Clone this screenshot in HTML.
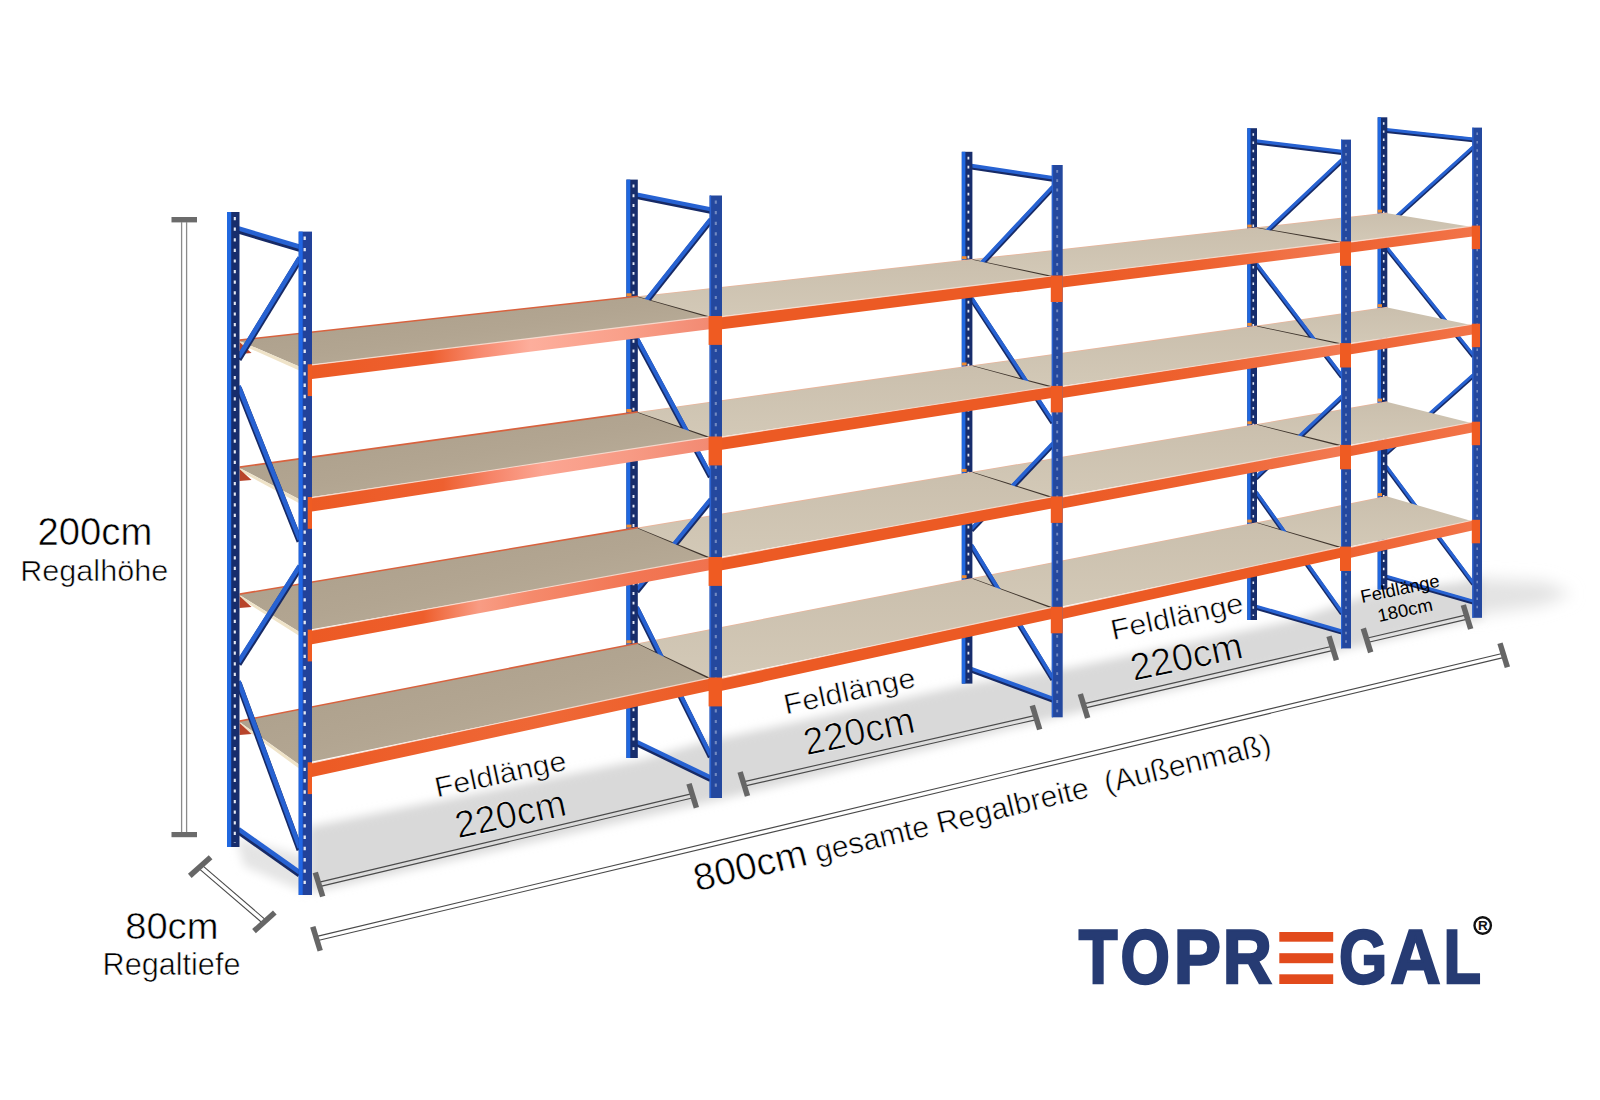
<!DOCTYPE html>
<html><head><meta charset="utf-8"><style>
html,body{margin:0;padding:0;background:#fff;}
svg{display:block;font-family:"Liberation Sans", sans-serif;}
</style></head><body>
<svg width="1600" height="1100" viewBox="0 0 1600 1100">
<defs>
<filter id="blur" x="-10%" y="-30%" width="120%" height="160%"><feGaussianBlur stdDeviation="5"/></filter>
<filter id="blur3" x="-30%" y="-100%" width="160%" height="300%"><feGaussianBlur stdDeviation="8"/></filter>
<filter id="blur2" x="-20%" y="-50%" width="140%" height="200%"><feGaussianBlur stdDeviation="16"/></filter>
<linearGradient id="board" x1="0" y1="0" x2="1" y2="1"><stop offset="0" stop-color="#a99c88"/><stop offset="0.5" stop-color="#b2a591"/><stop offset="1" stop-color="#c0b4a0"/></linearGradient>
<linearGradient id="boardL" x1="0" y1="0" x2="0" y2="1"><stop offset="0" stop-color="#cabfad"/><stop offset="1" stop-color="#d3c9b7"/></linearGradient>
<linearGradient id="beam2" x1="0" y1="0" x2="1" y2="0"><stop offset="0" stop-color="#ec5a24"/><stop offset="0.5" stop-color="#ee6230"/><stop offset="1" stop-color="#f27a52"/></linearGradient>
<linearGradient id="beam3" x1="0" y1="0" x2="1" y2="0"><stop offset="0" stop-color="#ee6232"/><stop offset="1" stop-color="#f27448"/></linearGradient>
<linearGradient id="beam0_0" x1="0" y1="0" x2="1" y2="0"><stop offset="0" stop-color="#ec5a24"/><stop offset="0.3" stop-color="#ee6030"/><stop offset="0.42" stop-color="#f7896e"/><stop offset="0.55" stop-color="#fdae9c"/><stop offset="0.78" stop-color="#f9a08a"/><stop offset="1" stop-color="#f28a72"/></linearGradient>
<linearGradient id="beam0_1" x1="0" y1="0" x2="1" y2="0"><stop offset="0" stop-color="#ec5a24"/><stop offset="0.33" stop-color="#ee6030"/><stop offset="0.45" stop-color="#f68468"/><stop offset="0.58" stop-color="#fba592"/><stop offset="0.8" stop-color="#f79a84"/><stop offset="1" stop-color="#f28a72"/></linearGradient>
<linearGradient id="beam0_2" x1="0" y1="0" x2="1" y2="0"><stop offset="0" stop-color="#ec5a24"/><stop offset="0.28" stop-color="#ee5e2c"/><stop offset="0.42" stop-color="#f89c84"/><stop offset="0.55" stop-color="#f58a6c"/><stop offset="0.8" stop-color="#f27654"/><stop offset="1" stop-color="#f0724e"/></linearGradient>
<linearGradient id="beam0_3" x1="0" y1="0" x2="1" y2="0"><stop offset="0" stop-color="#ec5a24"/><stop offset="0.4" stop-color="#ee6432"/><stop offset="0.6" stop-color="#ef6836"/><stop offset="1" stop-color="#ec5c26"/></linearGradient>
</defs>
<rect width="1600" height="1100" fill="#fff"/>
<polygon points="1470.0,578.0 1545.0,582.0 1572.0,594.0 1540.0,606.0 1470.0,616.0" fill="#e3e3e3" filter="url(#blur3)"/>
<polygon points="308.0,827.0 640.0,760.0 700.0,743.0 968.0,684.0 1069.0,668.0 1290.0,621.0 1377.0,592.0 1482.0,580.0 1482.0,618.0 1351.0,648.0 1062.0,716.0 722.0,799.0 308.0,893.0" fill="#d9d9d9" filter="url(#blur)"/>
<polygon points="236.0,838.0 304.0,856.0 304.0,892.0 244.0,866.0" fill="#e4e4e4" filter="url(#blur)"/>
<line x1="1386.3" y1="130.9" x2="1473.3" y2="140.2" stroke="#172a66" stroke-width="4.2"/><line x1="1386.3" y1="129.5" x2="1473.3" y2="138.9" stroke="#2762d2" stroke-width="3.0"/><line x1="1386.3" y1="226.7" x2="1473.3" y2="148.0" stroke="#172a66" stroke-width="4.2"/><line x1="1386.3" y1="225.4" x2="1473.3" y2="146.7" stroke="#2762d2" stroke-width="3.0"/><line x1="1386.3" y1="248.0" x2="1473.3" y2="356.4" stroke="#172a66" stroke-width="4.2"/><line x1="1386.3" y1="246.7" x2="1473.3" y2="355.0" stroke="#2762d2" stroke-width="3.0"/><line x1="1386.3" y1="453.4" x2="1473.3" y2="376.0" stroke="#172a66" stroke-width="4.2"/><line x1="1386.3" y1="452.1" x2="1473.3" y2="374.6" stroke="#2762d2" stroke-width="3.0"/><line x1="1386.3" y1="467.6" x2="1473.3" y2="584.3" stroke="#172a66" stroke-width="4.2"/><line x1="1386.3" y1="466.2" x2="1473.3" y2="583.0" stroke="#2762d2" stroke-width="3.0"/><line x1="1386.3" y1="577.6" x2="1473.3" y2="602.5" stroke="#172a66" stroke-width="4.2"/><line x1="1386.3" y1="576.2" x2="1473.3" y2="601.1" stroke="#2762d2" stroke-width="3.0"/>
<rect x="1377.7" y="117.3" width="9.6" height="472.2" fill="#172d6c"/><rect x="1377.7" y="117.3" width="3.3" height="472.2" fill="#2068e0"/><line x1="1383.7" y1="122.3" x2="1383.7" y2="585.5" stroke="#e6eaf4" stroke-opacity="1.00" stroke-width="1.6" stroke-dasharray="2.4 5.7"/>
<polygon points="1257.0,227.2 1387.3,212.4 1387.3,214.2 1257.0,229.0" fill="#eab49a"/>
<polygon points="1257.0,228.0 1387.3,213.2 1472.3,227.1 1341.0,242.9" fill="url(#boardL)"/>
<line x1="1256.9" y1="228.5" x2="1341.9" y2="242.9" stroke="#40362e" stroke-width="2.2"/>
<polygon points="1257.0,325.6 1387.3,306.8 1387.3,308.6 1257.0,327.4" fill="#eab49a"/>
<polygon points="1257.0,326.4 1387.3,307.6 1472.3,325.2 1341.0,344.6" fill="url(#boardL)"/>
<line x1="1256.9" y1="326.9" x2="1341.9" y2="344.6" stroke="#40362e" stroke-width="2.2"/>
<polygon points="1257.0,424.0 1387.3,401.2 1387.3,403.0 1257.0,425.8" fill="#eab49a"/>
<polygon points="1257.0,424.8 1387.3,402.0 1472.3,423.2 1341.0,446.4" fill="url(#boardL)"/>
<line x1="1256.9" y1="425.3" x2="1341.9" y2="446.4" stroke="#40362e" stroke-width="2.2"/>
<polygon points="1257.0,522.3 1387.3,495.7 1387.3,497.5 1257.0,524.1" fill="#eab49a"/>
<polygon points="1257.0,523.1 1387.3,496.5 1472.3,521.2 1341.0,548.2" fill="url(#boardL)"/>
<line x1="1256.9" y1="523.6" x2="1341.9" y2="548.2" stroke="#40362e" stroke-width="2.2"/>
<line x1="1256.0" y1="142.4" x2="1342.0" y2="152.7" stroke="#172a66" stroke-width="4.4"/><line x1="1256.0" y1="140.9" x2="1342.0" y2="151.3" stroke="#2762d2" stroke-width="3.2"/><line x1="1256.0" y1="242.2" x2="1342.0" y2="160.8" stroke="#172a66" stroke-width="4.4"/><line x1="1256.0" y1="240.8" x2="1342.0" y2="159.4" stroke="#2762d2" stroke-width="3.2"/><line x1="1256.0" y1="264.3" x2="1342.0" y2="377.1" stroke="#172a66" stroke-width="4.4"/><line x1="1256.0" y1="262.9" x2="1342.0" y2="375.7" stroke="#2762d2" stroke-width="3.2"/><line x1="1256.0" y1="478.3" x2="1342.0" y2="397.4" stroke="#172a66" stroke-width="4.4"/><line x1="1256.0" y1="476.8" x2="1342.0" y2="396.0" stroke="#2762d2" stroke-width="3.2"/><line x1="1256.0" y1="493.0" x2="1342.0" y2="613.7" stroke="#172a66" stroke-width="4.4"/><line x1="1256.0" y1="491.6" x2="1342.0" y2="612.3" stroke="#2762d2" stroke-width="3.2"/><line x1="1256.0" y1="607.6" x2="1342.0" y2="632.5" stroke="#172a66" stroke-width="4.4"/><line x1="1256.0" y1="606.2" x2="1342.0" y2="631.1" stroke="#2762d2" stroke-width="3.2"/>
<rect x="1247.3" y="128.2" width="9.7" height="491.8" fill="#172d6c"/><rect x="1247.3" y="128.2" width="3.3" height="491.8" fill="#2068e0"/><line x1="1253.3" y1="133.2" x2="1253.3" y2="616.0" stroke="#e6eaf4" stroke-opacity="1.00" stroke-width="1.6" stroke-dasharray="2.5 5.8"/>
<polygon points="972.4,259.0 1257.0,227.2 1257.0,229.0 972.4,260.8" fill="#eab49a"/>
<polygon points="972.4,259.8 1257.0,228.0 1341.0,242.9 1051.8,277.1" fill="url(#boardL)"/>
<line x1="972.3" y1="260.3" x2="1052.7" y2="277.1" stroke="#40362e" stroke-width="2.2"/>
<polygon points="972.4,365.3 1257.0,325.6 1257.0,327.4 972.4,367.1" fill="#eab49a"/>
<polygon points="972.4,366.1 1257.0,326.4 1341.0,344.6 1051.8,387.6" fill="url(#boardL)"/>
<line x1="972.3" y1="366.6" x2="1052.7" y2="387.6" stroke="#40362e" stroke-width="2.2"/>
<polygon points="972.4,471.7 1257.0,424.0 1257.0,425.8 972.4,473.5" fill="#eab49a"/>
<polygon points="972.4,472.5 1257.0,424.8 1341.0,446.4 1051.8,498.0" fill="url(#boardL)"/>
<line x1="972.3" y1="473.0" x2="1052.7" y2="498.0" stroke="#40362e" stroke-width="2.2"/>
<polygon points="972.4,578.0 1257.0,522.3 1257.0,524.1 972.4,579.8" fill="#eab49a"/>
<polygon points="972.4,578.8 1257.0,523.1 1341.0,548.2 1051.8,608.5" fill="url(#boardL)"/>
<line x1="972.3" y1="579.3" x2="1052.7" y2="608.5" stroke="#40362e" stroke-width="2.2"/>
<line x1="971.4" y1="167.1" x2="1052.8" y2="179.2" stroke="#172a66" stroke-width="5.0"/><line x1="971.4" y1="165.6" x2="1052.8" y2="177.7" stroke="#2762d2" stroke-width="3.6"/><line x1="971.4" y1="275.1" x2="1052.8" y2="188.1" stroke="#172a66" stroke-width="5.0"/><line x1="971.4" y1="273.5" x2="1052.8" y2="186.5" stroke="#2762d2" stroke-width="3.6"/><line x1="971.4" y1="299.0" x2="1052.8" y2="422.8" stroke="#172a66" stroke-width="5.0"/><line x1="971.4" y1="297.5" x2="1052.8" y2="421.2" stroke="#2762d2" stroke-width="3.6"/><line x1="971.4" y1="530.4" x2="1052.8" y2="444.9" stroke="#172a66" stroke-width="5.0"/><line x1="971.4" y1="528.8" x2="1052.8" y2="443.3" stroke="#2762d2" stroke-width="3.6"/><line x1="971.4" y1="546.3" x2="1052.8" y2="679.6" stroke="#172a66" stroke-width="5.0"/><line x1="971.4" y1="544.7" x2="1052.8" y2="678.0" stroke="#2762d2" stroke-width="3.6"/><line x1="971.4" y1="670.2" x2="1052.8" y2="700.1" stroke="#172a66" stroke-width="5.0"/><line x1="971.4" y1="668.6" x2="1052.8" y2="698.5" stroke="#2762d2" stroke-width="3.6"/>
<rect x="961.8" y="151.8" width="10.6" height="531.8" fill="#172d6c"/><rect x="961.8" y="151.8" width="3.6" height="531.8" fill="#2068e0"/><line x1="968.4" y1="156.8" x2="968.4" y2="679.6" stroke="#e6eaf4" stroke-opacity="1.00" stroke-width="1.8" stroke-dasharray="2.7 6.3"/>
<polygon points="637.8,296.2 972.4,259.0 972.4,260.8 637.8,298.0" fill="#eab49a"/>
<polygon points="637.8,297.0 972.4,259.8 1051.8,277.1 709.6,317.8" fill="url(#boardL)"/>
<line x1="637.7" y1="297.5" x2="710.5" y2="317.8" stroke="#40362e" stroke-width="2.2"/>
<polygon points="637.8,411.9 972.4,365.3 972.4,367.1 637.8,413.7" fill="#eab49a"/>
<polygon points="637.8,412.7 972.4,366.1 1051.8,387.6 709.6,438.3" fill="url(#boardL)"/>
<line x1="637.7" y1="413.2" x2="710.5" y2="438.3" stroke="#40362e" stroke-width="2.2"/>
<polygon points="637.8,527.6 972.4,471.7 972.4,473.5 637.8,529.4" fill="#eab49a"/>
<polygon points="637.8,528.4 972.4,472.5 1051.8,498.0 709.6,558.8" fill="url(#boardL)"/>
<line x1="637.7" y1="528.9" x2="710.5" y2="558.8" stroke="#40362e" stroke-width="2.2"/>
<polygon points="637.8,643.3 972.4,578.0 972.4,579.8 637.8,645.1" fill="#eab49a"/>
<polygon points="637.8,644.1 972.4,578.8 1051.8,608.5 709.6,679.3" fill="url(#boardL)"/>
<line x1="637.7" y1="644.6" x2="710.5" y2="679.3" stroke="#40362e" stroke-width="2.2"/>
<line x1="636.8" y1="196.3" x2="710.6" y2="211.1" stroke="#172a66" stroke-width="5.6"/><line x1="636.8" y1="194.5" x2="710.6" y2="209.3" stroke="#2762d2" stroke-width="4.0"/><line x1="636.8" y1="313.8" x2="710.6" y2="220.7" stroke="#172a66" stroke-width="5.6"/><line x1="636.8" y1="312.0" x2="710.6" y2="218.9" stroke="#2762d2" stroke-width="4.0"/><line x1="636.8" y1="339.8" x2="710.6" y2="476.8" stroke="#172a66" stroke-width="5.6"/><line x1="636.8" y1="338.0" x2="710.6" y2="475.0" stroke="#2762d2" stroke-width="4.0"/><line x1="636.8" y1="591.4" x2="710.6" y2="500.9" stroke="#172a66" stroke-width="5.6"/><line x1="636.8" y1="589.6" x2="710.6" y2="499.1" stroke="#2762d2" stroke-width="4.0"/><line x1="636.8" y1="608.7" x2="710.6" y2="756.9" stroke="#172a66" stroke-width="5.6"/><line x1="636.8" y1="606.9" x2="710.6" y2="755.2" stroke="#2762d2" stroke-width="4.0"/><line x1="636.8" y1="743.5" x2="710.6" y2="779.2" stroke="#172a66" stroke-width="5.6"/><line x1="636.8" y1="741.7" x2="710.6" y2="777.4" stroke="#2762d2" stroke-width="4.0"/>
<rect x="626.4" y="179.6" width="11.4" height="578.4" fill="#172d6c"/><rect x="626.4" y="179.6" width="3.9" height="578.4" fill="#2068e0"/><line x1="633.5" y1="184.6" x2="633.5" y2="754.0" stroke="#e6eaf4" stroke-opacity="1.00" stroke-width="1.9" stroke-dasharray="2.9 6.8"/>
<polygon points="239.5,339.3 637.8,295.4 637.8,298.0 239.5,341.9" fill="#d8623e"/>
<polygon points="239.5,340.9 637.8,297.0 709.6,317.8 298.7,366.3" fill="url(#board)"/>
<polygon points="239.5,340.9 298.7,366.3 298.7,370.3 239.5,343.9" fill="#efe3c8"/>
<polygon points="239.5,341.9 251.5,352.9 239.5,353.9" fill="#b8442a"/>
<polygon points="239.5,466.3 637.8,411.1 637.8,413.7 239.5,468.9" fill="#d8623e"/>
<polygon points="239.5,467.9 637.8,412.7 709.6,438.3 298.7,499.0" fill="url(#board)"/>
<polygon points="239.5,467.9 298.7,499.0 298.7,503.0 239.5,470.9" fill="#efe3c8"/>
<polygon points="239.5,468.9 251.5,479.9 239.5,480.9" fill="#b8442a"/>
<polygon points="239.5,593.3 637.8,526.8 637.8,529.4 239.5,595.9" fill="#d8623e"/>
<polygon points="239.5,594.9 637.8,528.4 709.6,558.8 298.7,631.6" fill="url(#board)"/>
<polygon points="239.5,594.9 298.7,631.6 298.7,635.6 239.5,597.9" fill="#efe3c8"/>
<polygon points="239.5,595.9 251.5,606.9 239.5,607.9" fill="#b8442a"/>
<polygon points="239.5,720.3 637.8,642.5 637.8,645.1 239.5,722.9" fill="#d8623e"/>
<polygon points="239.5,721.9 637.8,644.1 709.6,679.3 298.7,764.3" fill="url(#board)"/>
<polygon points="239.5,721.9 298.7,764.3 298.7,768.3 239.5,724.9" fill="#efe3c8"/>
<polygon points="239.5,722.9 251.5,733.9 239.5,734.9" fill="#b8442a"/>
<line x1="238.5" y1="230.4" x2="299.7" y2="248.8" stroke="#172a66" stroke-width="6.4"/><line x1="238.5" y1="228.4" x2="299.7" y2="246.8" stroke="#2762d2" stroke-width="4.6"/><line x1="238.5" y1="359.3" x2="299.7" y2="259.4" stroke="#172a66" stroke-width="6.4"/><line x1="238.5" y1="357.3" x2="299.7" y2="257.4" stroke="#2762d2" stroke-width="4.6"/><line x1="238.5" y1="387.9" x2="299.7" y2="541.4" stroke="#172a66" stroke-width="6.4"/><line x1="238.5" y1="385.9" x2="299.7" y2="539.3" stroke="#2762d2" stroke-width="4.6"/><line x1="238.5" y1="664.1" x2="299.7" y2="567.9" stroke="#172a66" stroke-width="6.4"/><line x1="238.5" y1="662.1" x2="299.7" y2="565.8" stroke="#2762d2" stroke-width="4.6"/><line x1="238.5" y1="683.2" x2="299.7" y2="849.8" stroke="#172a66" stroke-width="6.4"/><line x1="238.5" y1="681.1" x2="299.7" y2="847.8" stroke="#2762d2" stroke-width="4.6"/><line x1="238.5" y1="831.1" x2="299.7" y2="874.4" stroke="#172a66" stroke-width="6.4"/><line x1="238.5" y1="829.1" x2="299.7" y2="872.3" stroke="#2762d2" stroke-width="4.6"/>
<rect x="227.0" y="212.0" width="12.5" height="635.0" fill="#172d6c"/><rect x="227.0" y="212.0" width="4.2" height="635.0" fill="#2068e0"/><line x1="234.8" y1="217.0" x2="234.8" y2="843.0" stroke="#e6eaf4" stroke-opacity="1.00" stroke-width="2.1" stroke-dasharray="3.2 7.4"/>
<polygon points="312.0,364.9 709.6,316.6 709.6,329.3 312.0,378.9" fill="url(#beam0_0)"/>
<line x1="312.0" y1="364.9" x2="709.6" y2="316.6" stroke="#fbe6dc" stroke-width="1.1" opacity="0.8"/>
<polygon points="722.0,316.6 1051.8,276.0 1051.8,287.6 722.0,329.3" fill="#ec5a24"/>
<line x1="722.0" y1="316.6" x2="1051.8" y2="276.0" stroke="#fbe6dc" stroke-width="1.1" opacity="0.8"/>
<polygon points="1062.7,276.0 1341.0,241.9 1341.0,252.6 1062.7,287.6" fill="url(#beam2)"/>
<line x1="1062.7" y1="276.0" x2="1341.0" y2="241.9" stroke="#fbe6dc" stroke-width="1.1" opacity="0.8"/>
<polygon points="1351.0,241.9 1472.3,226.1 1472.3,236.4 1351.0,252.6" fill="url(#beam3)"/>
<line x1="1351.0" y1="241.9" x2="1472.3" y2="226.1" stroke="#fbe6dc" stroke-width="1.1" opacity="0.8"/>
<polygon points="312.0,497.6 709.6,437.1 709.6,449.8 312.0,511.6" fill="url(#beam0_1)"/>
<line x1="312.0" y1="497.6" x2="709.6" y2="437.1" stroke="#fbe6dc" stroke-width="1.1" opacity="0.8"/>
<polygon points="722.0,437.1 1051.8,386.5 1051.8,398.1 722.0,449.8" fill="#ec5a24"/>
<line x1="722.0" y1="437.1" x2="1051.8" y2="386.5" stroke="#fbe6dc" stroke-width="1.1" opacity="0.8"/>
<polygon points="1062.7,386.5 1341.0,343.6 1341.0,354.3 1062.7,398.1" fill="url(#beam2)"/>
<line x1="1062.7" y1="386.5" x2="1341.0" y2="343.6" stroke="#fbe6dc" stroke-width="1.1" opacity="0.8"/>
<polygon points="1351.0,343.6 1472.3,324.2 1472.3,334.5 1351.0,354.3" fill="url(#beam3)"/>
<line x1="1351.0" y1="343.6" x2="1472.3" y2="324.2" stroke="#fbe6dc" stroke-width="1.1" opacity="0.8"/>
<polygon points="312.0,630.3 709.6,557.6 709.6,570.3 312.0,644.2" fill="url(#beam0_2)"/>
<line x1="312.0" y1="630.3" x2="709.6" y2="557.6" stroke="#fbe6dc" stroke-width="1.1" opacity="0.8"/>
<polygon points="722.0,557.6 1051.8,496.9 1051.8,508.5 722.0,570.3" fill="#ec5a24"/>
<line x1="722.0" y1="557.6" x2="1051.8" y2="496.9" stroke="#fbe6dc" stroke-width="1.1" opacity="0.8"/>
<polygon points="1062.7,496.9 1341.0,445.4 1341.0,456.1 1062.7,508.5" fill="url(#beam2)"/>
<line x1="1062.7" y1="496.9" x2="1341.0" y2="445.4" stroke="#fbe6dc" stroke-width="1.1" opacity="0.8"/>
<polygon points="1351.0,445.4 1472.3,422.2 1472.3,432.5 1351.0,456.1" fill="url(#beam3)"/>
<line x1="1351.0" y1="445.4" x2="1472.3" y2="422.2" stroke="#fbe6dc" stroke-width="1.1" opacity="0.8"/>
<polygon points="312.0,763.0 709.6,678.1 709.6,690.8 312.0,776.9" fill="url(#beam0_3)"/>
<line x1="312.0" y1="763.0" x2="709.6" y2="678.1" stroke="#fbe6dc" stroke-width="1.1" opacity="0.8"/>
<polygon points="722.0,678.1 1051.8,607.4 1051.8,619.0 722.0,690.8" fill="#ec5a24"/>
<line x1="722.0" y1="678.1" x2="1051.8" y2="607.4" stroke="#fbe6dc" stroke-width="1.1" opacity="0.8"/>
<polygon points="1062.7,607.4 1341.0,547.1 1341.0,557.8 1062.7,619.0" fill="#ec5a24"/>
<line x1="1062.7" y1="607.4" x2="1341.0" y2="547.1" stroke="#fbe6dc" stroke-width="1.1" opacity="0.8"/>
<polygon points="1351.0,547.1 1472.3,520.3 1472.3,530.5 1351.0,557.8" fill="url(#beam3)"/>
<line x1="1351.0" y1="547.1" x2="1472.3" y2="520.3" stroke="#fbe6dc" stroke-width="1.1" opacity="0.8"/>
<rect x="298.7" y="231.6" width="13.3" height="663.4" fill="#22429a"/><rect x="298.7" y="231.6" width="4.0" height="663.4" fill="#2066e4"/><line x1="304.7" y1="236.6" x2="304.7" y2="891.0" stroke="#e6eaf4" stroke-opacity="1.00" stroke-width="2.3" stroke-dasharray="3.4 7.9"/>
<rect x="307.7" y="364.3" width="4.3" height="31.8" fill="#ef5b22"/>
<rect x="307.7" y="497.0" width="4.3" height="31.8" fill="#ef5b22"/>
<rect x="307.7" y="629.6" width="4.3" height="31.8" fill="#ef5b22"/>
<rect x="307.7" y="762.3" width="4.3" height="31.8" fill="#ef5b22"/>
<rect x="709.6" y="195.5" width="12.4" height="602.5" fill="#24489e"/><rect x="709.6" y="195.5" width="1.5" height="602.5" fill="#2a62d0"/><line x1="715.8" y1="200.5" x2="715.8" y2="794.0" stroke="#e6eaf4" stroke-opacity="0.40" stroke-width="2.1" stroke-dasharray="3.2 7.4"/>
<rect x="708.6" y="316.0" width="13.4" height="28.9" fill="#ef5b22"/>
<rect x="708.6" y="436.5" width="13.4" height="28.9" fill="#ef5b22"/>
<rect x="708.6" y="557.0" width="13.4" height="28.9" fill="#ef5b22"/>
<rect x="708.6" y="677.5" width="13.4" height="28.9" fill="#ef5b22"/>
<rect x="626.4" y="293.3" width="5.1" height="3" fill="#f08a30"/>
<rect x="626.4" y="409.0" width="5.1" height="3" fill="#f08a30"/>
<rect x="626.4" y="524.6" width="5.1" height="3" fill="#f08a30"/>
<rect x="626.4" y="640.3" width="5.1" height="3" fill="#f08a30"/>
<rect x="1051.8" y="165.0" width="10.9" height="552.3" fill="#24489e"/><rect x="1051.8" y="165.0" width="1.3" height="552.3" fill="#2a62d0"/><line x1="1057.2" y1="170.0" x2="1057.2" y2="713.3" stroke="#e6eaf4" stroke-opacity="0.40" stroke-width="1.9" stroke-dasharray="2.8 6.5"/>
<rect x="1050.8" y="275.5" width="11.9" height="26.5" fill="#ef5b22"/>
<rect x="1050.8" y="385.9" width="11.9" height="26.5" fill="#ef5b22"/>
<rect x="1050.8" y="496.4" width="11.9" height="26.5" fill="#ef5b22"/>
<rect x="1050.8" y="606.8" width="11.9" height="26.5" fill="#ef5b22"/>
<rect x="961.8" y="256.2" width="4.8" height="3" fill="#f08a30"/>
<rect x="961.8" y="362.5" width="4.8" height="3" fill="#f08a30"/>
<rect x="961.8" y="468.9" width="4.8" height="3" fill="#f08a30"/>
<rect x="961.8" y="575.2" width="4.8" height="3" fill="#f08a30"/>
<rect x="1341.0" y="139.6" width="10.0" height="508.8" fill="#24489e"/><rect x="1341.0" y="139.6" width="1.2" height="508.8" fill="#2a62d0"/><line x1="1346.0" y1="144.6" x2="1346.0" y2="644.4" stroke="#e6eaf4" stroke-opacity="0.40" stroke-width="1.7" stroke-dasharray="2.5 5.9"/>
<rect x="1340.0" y="241.4" width="11.0" height="24.4" fill="#ef5b22"/>
<rect x="1340.0" y="343.1" width="11.0" height="24.4" fill="#ef5b22"/>
<rect x="1340.0" y="444.9" width="11.0" height="24.4" fill="#ef5b22"/>
<rect x="1340.0" y="546.6" width="11.0" height="24.4" fill="#ef5b22"/>
<rect x="1247.3" y="224.6" width="4.4" height="3" fill="#f08a30"/>
<rect x="1247.3" y="322.9" width="4.4" height="3" fill="#f08a30"/>
<rect x="1247.3" y="421.3" width="4.4" height="3" fill="#f08a30"/>
<rect x="1247.3" y="519.6" width="4.4" height="3" fill="#f08a30"/>
<rect x="1472.3" y="127.6" width="9.7" height="490.2" fill="#24489e"/><rect x="1472.3" y="127.6" width="1.2" height="490.2" fill="#2a62d0"/><line x1="1477.2" y1="132.6" x2="1477.2" y2="613.8" stroke="#e6eaf4" stroke-opacity="0.40" stroke-width="1.6" stroke-dasharray="2.5 5.8"/>
<rect x="1471.8" y="225.6" width="8.3" height="23.5" fill="#ef5b22"/>
<rect x="1471.8" y="323.7" width="8.3" height="23.5" fill="#ef5b22"/>
<rect x="1471.8" y="421.7" width="8.3" height="23.5" fill="#ef5b22"/>
<rect x="1471.8" y="519.8" width="8.3" height="23.5" fill="#ef5b22"/>
<rect x="1377.7" y="209.7" width="4.3" height="3" fill="#f08a30"/>
<rect x="1377.7" y="304.2" width="4.3" height="3" fill="#f08a30"/>
<rect x="1377.7" y="398.6" width="4.3" height="3" fill="#f08a30"/>
<rect x="1377.7" y="493.1" width="4.3" height="3" fill="#f08a30"/>
<rect x="171.5" y="217" width="25.5" height="5.4" fill="#6b6b6b"/>
<rect x="171.5" y="832" width="25.5" height="5.2" fill="#6b6b6b"/>
<line x1="181.6" y1="222" x2="181.6" y2="832" stroke="#8a8a8a" stroke-width="1.3"/>
<line x1="186.6" y1="222" x2="186.6" y2="832" stroke="#8a8a8a" stroke-width="1.3"/>
<line x1="201.7" y1="864.9" x2="265.9" y2="920.1" stroke="#4a4a4a" stroke-width="1.10"/><line x1="198.7" y1="868.3" x2="262.9" y2="923.5" stroke="#4a4a4a" stroke-width="1.10"/><line x1="189.8" y1="875.9" x2="210.6" y2="857.3" stroke="#666" stroke-width="5.5"/><line x1="254.0" y1="931.1" x2="274.8" y2="912.5" stroke="#666" stroke-width="5.5"/>
<line x1="318.5" y1="882.4" x2="692.2" y2="793.6" stroke="#4a4a4a" stroke-width="1.10"/><line x1="319.5" y1="886.6" x2="693.2" y2="797.8" stroke="#4a4a4a" stroke-width="1.10"/><line x1="315.3" y1="872.5" x2="322.7" y2="896.5" stroke="#666" stroke-width="5.5"/><line x1="689.0" y1="783.7" x2="696.4" y2="807.7" stroke="#666" stroke-width="5.5"/>
<line x1="743.3" y1="781.9" x2="1035.5" y2="715.4" stroke="#4a4a4a" stroke-width="1.10"/><line x1="744.3" y1="786.1" x2="1036.5" y2="719.6" stroke="#4a4a4a" stroke-width="1.10"/><line x1="740.1" y1="772.0" x2="747.5" y2="796.0" stroke="#666" stroke-width="5.5"/><line x1="1032.3" y1="705.5" x2="1039.7" y2="729.5" stroke="#666" stroke-width="5.5"/>
<line x1="1083.5" y1="703.9" x2="1332.2" y2="646.2" stroke="#4a4a4a" stroke-width="1.10"/><line x1="1084.5" y1="708.1" x2="1333.2" y2="650.4" stroke="#4a4a4a" stroke-width="1.10"/><line x1="1080.3" y1="694.0" x2="1087.7" y2="718.0" stroke="#666" stroke-width="5.5"/><line x1="1329.0" y1="636.3" x2="1336.4" y2="660.3" stroke="#666" stroke-width="5.5"/>
<line x1="1366.5" y1="638.3" x2="1466.5" y2="614.9" stroke="#4a4a4a" stroke-width="1.10"/><line x1="1367.5" y1="642.5" x2="1467.5" y2="619.1" stroke="#4a4a4a" stroke-width="1.10"/><line x1="1363.3" y1="628.4" x2="1370.7" y2="652.4" stroke="#666" stroke-width="5.5"/><line x1="1463.3" y1="605.0" x2="1470.7" y2="629.0" stroke="#666" stroke-width="5.5"/>
<line x1="316.0" y1="936.6" x2="1503.2" y2="653.2" stroke="#4a4a4a" stroke-width="1.10"/><line x1="317.0" y1="940.8" x2="1504.2" y2="657.4" stroke="#4a4a4a" stroke-width="1.10"/><line x1="312.8" y1="926.7" x2="320.2" y2="950.7" stroke="#666" stroke-width="5.5"/><line x1="1500.0" y1="643.3" x2="1507.4" y2="667.3" stroke="#666" stroke-width="5.5"/>
<text transform="translate(37.59,545.00) scale(0.9767,1)" font-size="39.14" font-weight="normal" fill="#000" stroke="#fff" stroke-width="0.55">200cm</text>
<text transform="translate(20.25,580.60) scale(1.0248,1)" font-size="29.86" font-weight="normal" fill="#000" stroke="#fff" stroke-width="0.55">Regalhöhe</text>
<text transform="translate(125.17,939.00) scale(1.0157,1)" font-size="37.57" font-weight="normal" fill="#000" stroke="#fff" stroke-width="0.55">80cm</text>
<text transform="translate(102.55,975.00) scale(1.0067,1)" font-size="30.43" font-weight="normal" fill="#000" stroke="#fff" stroke-width="0.55">Regaltiefe</text>
<text transform="translate(437.00,797.50) rotate(-12.00) scale(1.0682,1)" font-size="28.50" fill="#000" stroke="#fff" stroke-width="0.55" xml:space="preserve" style="white-space:pre">Feldlänge</text>
<text transform="translate(458.00,838.50) rotate(-12.00) scale(0.9868,1)" font-size="38.00" fill="#000" stroke="#fff" stroke-width="0.55" xml:space="preserve" style="white-space:pre">220cm</text>
<text transform="translate(786.00,714.50) rotate(-12.00) scale(1.0682,1)" font-size="28.50" fill="#000" stroke="#fff" stroke-width="0.55" xml:space="preserve" style="white-space:pre">Feldlänge</text>
<text transform="translate(806.50,755.50) rotate(-12.00) scale(0.9868,1)" font-size="38.00" fill="#000" stroke="#fff" stroke-width="0.55" xml:space="preserve" style="white-space:pre">220cm</text>
<text transform="translate(1113.00,640.00) rotate(-12.00) scale(1.0765,1)" font-size="28.50" fill="#000" stroke="#fff" stroke-width="0.55" xml:space="preserve" style="white-space:pre">Feldlänge</text>
<text transform="translate(1133.50,681.00) rotate(-12.00) scale(0.9960,1)" font-size="38.00" fill="#000" stroke="#fff" stroke-width="0.55" xml:space="preserve" style="white-space:pre">220cm</text>
<text transform="translate(1362.00,603.00) rotate(-12.00) scale(1.0148,1)" font-size="18.00" fill="#000" stroke="#fff" stroke-width="0.00" xml:space="preserve" style="white-space:pre">Feldlänge</text>
<text transform="translate(1379.00,622.00) rotate(-12.00) scale(1.0331,1)" font-size="18.00" fill="#000" stroke="#fff" stroke-width="0.00" xml:space="preserve" style="white-space:pre">180cm</text>
<text transform="translate(697.00,891.50) rotate(-13.50) scale(1.0107,1)" font-size="38.00" fill="#000" stroke="#fff" stroke-width="0.55" xml:space="preserve" style="white-space:pre">800cm</text>
<text transform="translate(817.57,862.55) rotate(-13.50) scale(1.0104,1)" font-size="30.10" fill="#000" stroke="#fff" stroke-width="0.55" xml:space="preserve" style="white-space:pre">gesamte Regalbreite  (Außenmaß)</text>
<text transform="translate(1078.67,983.00) scale(0.8347,1)" font-size="75.94" font-weight="bold" fill="#263b73" stroke="#263b73" stroke-width="2.4" stroke-linejoin="miter">T</text>
<text transform="translate(1120.46,983.40) scale(0.8308,1)" font-size="76.52" font-weight="bold" fill="#263b73" stroke="#263b73" stroke-width="2.4" stroke-linejoin="miter">O</text>
<text transform="translate(1173.85,983.00) scale(0.9312,1)" font-size="75.94" font-weight="bold" fill="#263b73" stroke="#263b73" stroke-width="2.4" stroke-linejoin="miter">P</text>
<text transform="translate(1222.63,983.00) scale(0.8967,1)" font-size="75.94" font-weight="bold" fill="#263b73" stroke="#263b73" stroke-width="2.4" stroke-linejoin="miter">R</text>
<text transform="translate(1339.12,983.40) scale(0.8110,1)" font-size="76.52" font-weight="bold" fill="#263b73" stroke="#263b73" stroke-width="2.4" stroke-linejoin="miter">G</text>
<text transform="translate(1390.62,983.00) scale(0.9118,1)" font-size="75.94" font-weight="bold" fill="#263b73" stroke="#263b73" stroke-width="2.4" stroke-linejoin="miter">A</text>
<text transform="translate(1443.40,983.00) scale(0.8081,1)" font-size="75.94" font-weight="bold" fill="#263b73" stroke="#263b73" stroke-width="2.4" stroke-linejoin="miter">L</text>
<rect x="1279.3" y="932.0" width="53.9" height="9.7" fill="#e24a1c"/>
<rect x="1279.3" y="953.2" width="53.9" height="10.0" fill="#e24a1c"/>
<rect x="1279.3" y="974.3" width="53.9" height="9.7" fill="#e24a1c"/>
<circle cx="1482.7" cy="925.5" r="8.2" fill="none" stroke="#111" stroke-width="2.4"/>
<text x="1482.9" y="930.4" font-size="13.5" font-weight="bold" text-anchor="middle" fill="#111">R</text>
</svg></body></html>
